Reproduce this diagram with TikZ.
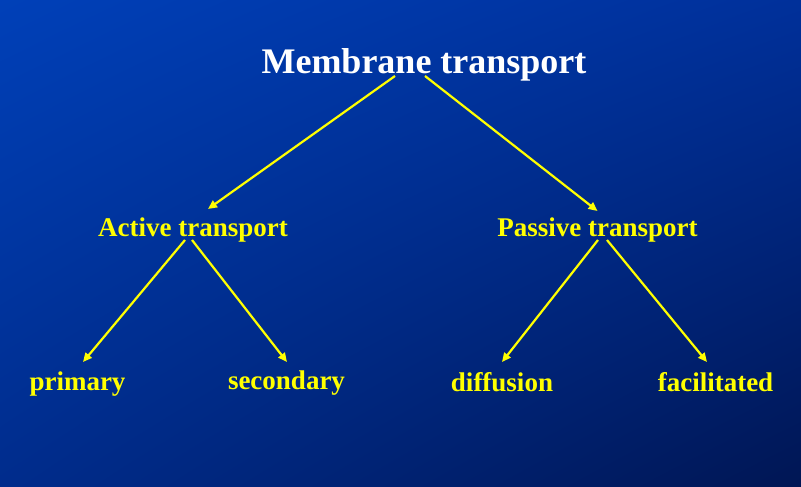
\documentclass[tikz,border=0pt]{standalone}
\usepackage{fontspec}
\setmainfont{Liberation Serif}
\usepackage{xcolor}
\usepackage{tikz}
\usetikzlibrary{arrows.meta,positioning,calc,shadings}
\definecolor{bgtl}{HTML}{0040B8}
\definecolor{bgtr}{HTML}{00309A}
\definecolor{bgbl}{HTML}{002C8C}
\definecolor{bgbr}{HTML}{001654}
\definecolor{hilite}{HTML}{FFFF00}

\begin{document}
\begin{tikzpicture}[x=1pt,y=1pt,
    head/.style={anchor=base, inner sep=0pt, text=white,
                 font=\fontsize{36}{40}\selectfont\bfseries},
    kind/.style={anchor=base, inner sep=0pt, text=hilite,
                 font=\fontsize{27}{30}\selectfont\bfseries},
    link/.style={draw=hilite, line width=2.2pt,
                 -{Triangle[length=9pt,width=8pt]}},
]
\useasboundingbox (0,0) rectangle (801,487);
\shade[upper left=bgtl, upper right=bgtr, lower left=bgbl, lower right=bgbr]
    (0,0) rectangle (801,487);

\node[head] (membrane) at (424,413) {Membrane transport};

\node[kind] (active)  at (193,250) {Active transport};
\node[kind] (passive) at (597.5,250) {Passive transport};

\node[kind] (primary)     at (77.5,96) {primary};
\node[kind] (secondary)   at (286.5,97) {secondary};
\node[kind] (diffusion)   at (502,95) {diffusion};
\node[kind] (facilitated) at (715.5,95) {facilitated};

% top level
\draw[link] ([shift={(-29,-2)}]membrane.base) -- ([shift={(15,28)}]active.base);
\draw[link] ([shift={(1,-2)}]membrane.base) -- ([shift={(0,26)}]passive.base);
% active side
\draw[link] ([shift={(-8,-3)}]active.base) -- ([shift={(5.5,29)}]primary.base);
\draw[link] ([shift={(-1,-3)}]active.base) -- ([shift={(0.5,28)}]secondary.base);
% passive side
\draw[link] ([shift={(0.5,-3)}]passive.base) -- ([shift={(0,30)}]diffusion.base);
\draw[link] ([shift={(9.5,-3)}]passive.base) -- ([shift={(-8.5,30)}]facilitated.base);
\end{tikzpicture}
\end{document}
